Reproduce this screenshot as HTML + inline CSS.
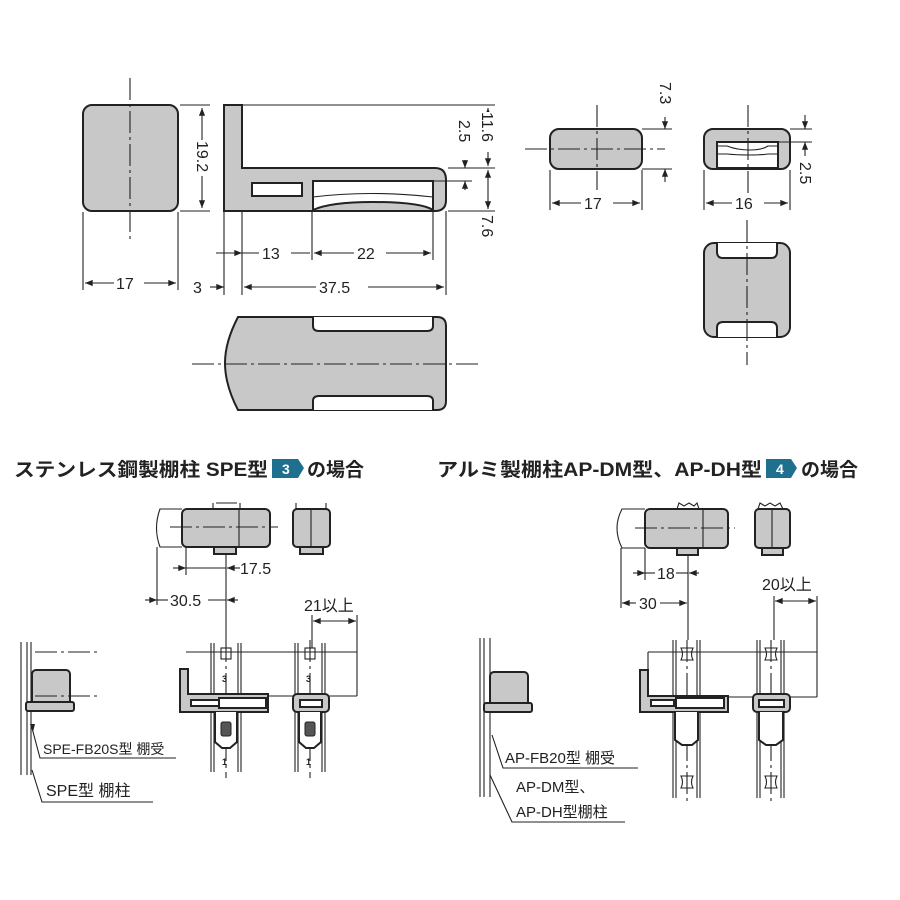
<!DOCTYPE html>
<html><head><meta charset="utf-8"><style>
html,body{margin:0;padding:0;background:#fff}
svg{display:block}
text{font-family:"Liberation Sans","Noto Sans CJK JP",sans-serif;fill:#222}
.o{fill:#c8c8c8;stroke:#222;stroke-width:2}
.w{fill:#fff;stroke:#222;stroke-width:2}
.t{stroke:#222;stroke-width:1.1;fill:none}
.c{stroke:#222;stroke-width:1.1;fill:none;stroke-dasharray:22 4 3 4}
.d{font-size:16px}
.h{font-size:19px;font-weight:bold}
</style></head><body>
<svg width="900" height="900" viewBox="0 0 900 900" xmlns="http://www.w3.org/2000/svg">
<defs>
<marker id="a" viewBox="0 0 10 10" refX="10" refY="5" markerWidth="9" markerHeight="7" orient="auto-start-reverse"><path d="M0,1 L10,5 L0,9z" fill="#222"/></marker>
</defs>

<!-- front square -->
<rect class="o" x="83" y="105" width="95" height="106" rx="9"/>
<line class="c" x1="130" y1="78" x2="130" y2="240"/>
<line class="t" x1="180" y1="105" x2="210" y2="105"/>
<line class="t" x1="180" y1="211" x2="210" y2="211"/>
<line class="t" x1="202" y1="108" x2="202" y2="208" marker-start="url(#a)" marker-end="url(#a)"/>
<rect x="194" y="140" width="16" height="36" fill="#fff"/>
<text class="d" transform="translate(197,141) rotate(90)">19.2</text>
<line class="t" x1="83" y1="212" x2="83" y2="290"/>
<line class="t" x1="178" y1="212" x2="178" y2="290"/>
<line class="t" x1="85" y1="283" x2="176" y2="283" marker-start="url(#a)" marker-end="url(#a)"/>
<rect x="114" y="274" width="30" height="18" fill="#fff"/>
<text class="d" x="116" y="289">17</text>

<!-- L profile -->
<path class="o" d="M224,105 H242 V168 H435 Q446,168 446,180 V200 Q446,211 435,211 H224 Z"/>
<rect class="w" x="252" y="183" width="50" height="13"/>
<path class="w" d="M313,181 H433 V210 Q420,202 373,202 Q330,202 313,210 Z"/>
<path class="t" d="M313,197 Q370,190 433,197"/>
<line class="t" x1="243" y1="105" x2="495" y2="105"/>
<line class="t" x1="448" y1="168" x2="495" y2="168"/>
<line class="t" x1="433" y1="181" x2="472" y2="181"/>
<line class="t" x1="448" y1="211" x2="495" y2="211"/>
<line class="t" x1="465" y1="160" x2="465" y2="168" marker-end="url(#a)"/>
<line class="t" x1="465" y1="190" x2="465" y2="181" marker-end="url(#a)"/>
<text class="d" transform="translate(459,120) rotate(90)">2.5</text>
<line class="t" x1="488" y1="108" x2="488" y2="166" marker-start="url(#a)" marker-end="url(#a)"/>
<line class="t" x1="488" y1="170" x2="488" y2="209" marker-start="url(#a)" marker-end="url(#a)"/>
<rect x="480" y="112" width="16" height="40" fill="#fff"/>
<text class="d" transform="translate(482,112) rotate(90)">11.6</text>
<text class="d" transform="translate(482,215) rotate(90)">7.6</text>
<line class="t" x1="224" y1="211" x2="224" y2="295"/>
<line class="t" x1="242" y1="211" x2="242" y2="295"/>
<line class="t" x1="312" y1="211" x2="312" y2="260"/>
<line class="t" x1="433" y1="211" x2="433" y2="260"/>
<line class="t" x1="446" y1="211" x2="446" y2="295"/>
<line class="t" x1="216" y1="253" x2="242" y2="253" marker-end="url(#a)"/>
<line class="t" x1="242" y1="253" x2="310" y2="253"/>
<line class="t" x1="314" y1="253" x2="431" y2="253" marker-start="url(#a)" marker-end="url(#a)"/>
<rect x="259" y="244" width="32" height="18" fill="#fff"/>
<text class="d" x="262" y="259">13</text>
<rect x="354" y="244" width="32" height="18" fill="#fff"/>
<text class="d" x="357" y="259">22</text>
<line class="t" x1="210" y1="287" x2="224" y2="287" marker-end="url(#a)"/>
<text class="d" x="193" y="293">3</text>
<line class="t" x1="244" y1="287" x2="444" y2="287" marker-start="url(#a)" marker-end="url(#a)"/>
<rect x="316" y="278" width="52" height="18" fill="#fff"/>
<text class="d" x="319" y="293">37.5</text>

<!-- bottom view -->
<path class="o" d="M238,317 H437 Q446,317 446,326 V401 Q446,410 437,410 H238 Q225,385 225,363 Q225,342 238,317 Z"/>
<path class="w" d="M313,317 V326 Q313,331 319,331 H427 Q433,331 433,326 V317"/>
<path class="w" d="M313,410 V401 Q313,396 319,396 H427 Q433,396 433,401 V410"/>
<line class="c" x1="192" y1="364" x2="478" y2="364"/>

<!-- right top -->
<rect class="o" x="550" y="129" width="92" height="40" rx="9"/>
<line class="c" x1="525" y1="149" x2="665" y2="149"/>
<line class="c" x1="597" y1="105" x2="597" y2="190"/>
<line class="t" x1="642" y1="129" x2="672" y2="129"/>
<line class="t" x1="642" y1="169" x2="672" y2="169"/>
<line class="t" x1="665" y1="117" x2="665" y2="129" marker-end="url(#a)"/>
<line class="t" x1="665" y1="182" x2="665" y2="169" marker-end="url(#a)"/>
<text class="d" transform="translate(660,82) rotate(90)">7.3</text>
<line class="t" x1="550" y1="170" x2="550" y2="210"/>
<line class="t" x1="642" y1="170" x2="642" y2="210"/>
<line class="t" x1="552" y1="203" x2="640" y2="203" marker-start="url(#a)" marker-end="url(#a)"/>
<rect x="581" y="194" width="32" height="18" fill="#fff"/>
<text class="d" x="584" y="209">17</text>

<rect class="o" x="704" y="129" width="86" height="40" rx="9"/>
<path class="w" d="M717,142 H778 V168 H717 Z"/>
<path class="t" d="M717,146 H727 Q737,150 750,150 Q762,150 768,146 H778"/>
<path class="t" d="M717,154 H727 Q737,155 750,155 Q762,155 768,154 H778"/>
<line class="c" x1="748" y1="105" x2="748" y2="205"/>
<line class="t" x1="790" y1="129" x2="812" y2="129"/>
<line class="t" x1="778" y1="142" x2="812" y2="142"/>
<line class="t" x1="805" y1="115" x2="805" y2="129" marker-end="url(#a)"/>
<line class="t" x1="805" y1="156" x2="805" y2="142" marker-end="url(#a)"/>
<text class="d" transform="translate(800,162) rotate(90)">2.5</text>
<line class="t" x1="704" y1="170" x2="704" y2="210"/>
<line class="t" x1="790" y1="170" x2="790" y2="210"/>
<line class="t" x1="706" y1="203" x2="788" y2="203" marker-start="url(#a)" marker-end="url(#a)"/>
<rect x="732" y="194" width="32" height="18" fill="#fff"/>
<text class="d" x="735" y="209">16</text>

<rect class="o" x="704" y="243" width="86" height="94" rx="10"/>
<path class="w" d="M717,243 V252 Q717,258 723,258 H771 Q777,258 777,252 V243"/>
<path class="w" d="M717,337 V328 Q717,322 723,322 H771 Q777,322 777,328 V337"/>
<line class="c" x1="747" y1="220" x2="747" y2="365"/>

<!-- lower left title -->
<text class="h" x="14" y="476" textLength="254" lengthAdjust="spacingAndGlyphs">ステンレス鋼製棚柱 SPE型</text>
<path d="M272,459 H298 L304,468 L298,478 H272 Z" fill="#1f6f8f"/>
<text x="282" y="474" font-size="14" style="fill:#fff" font-weight="bold">3</text>
<text class="h" x="307" y="476">の場合</text>

<path class="t" d="M182,509 H160 Q153,528 160,547 H182"/>
<rect class="o" x="182" y="509" width="88" height="38" rx="5"/>
<path d="M213,509 V503 M240,509 V503 M216,503 H237" class="t" stroke-width="2"/>
<rect class="o" x="214" y="547" width="22" height="7"/>
<line class="c" x1="170" y1="527" x2="278" y2="527"/>
<line class="t" x1="239" y1="509" x2="239" y2="547"/>
<rect class="o" x="293" y="509" width="37" height="38" rx="4"/>
<path d="M296,509 V503 M326,509 V503" class="t" stroke-width="2"/>
<line class="t" x1="311" y1="509" x2="311" y2="547"/>
<rect class="o" x="300" y="547" width="23" height="7"/>
<line class="t" x1="226" y1="554" x2="226" y2="640"/>
<line class="t" x1="186" y1="547" x2="186" y2="575"/>
<line class="t" x1="157" y1="547" x2="157" y2="605"/>
<line class="t" x1="173" y1="568" x2="186" y2="568" marker-end="url(#a)"/>
<line class="t" x1="186" y1="568" x2="226" y2="568"/>
<line class="t" x1="240" y1="568" x2="227" y2="568" marker-end="url(#a)"/>
<text class="d" x="240" y="574">17.5</text>
<line class="t" x1="145" y1="600" x2="157" y2="600" marker-end="url(#a)"/>
<line class="t" x1="157" y1="600" x2="168" y2="600"/>
<text class="d" x="170" y="606">30.5</text>
<line class="t" x1="208" y1="600" x2="226" y2="600"/>
<line class="t" x1="238" y1="600" x2="227" y2="600" marker-end="url(#a)"/>
<text class="d" x="304" y="611">21以上</text>
<line class="t" x1="312" y1="615" x2="312" y2="648"/>
<line class="t" x1="357" y1="615" x2="357" y2="696"/>
<line class="t" x1="313" y1="621" x2="356" y2="621" marker-start="url(#a)" marker-end="url(#a)"/>
<line class="t" x1="186" y1="652" x2="357" y2="652"/>
<line class="t" x1="240" y1="696" x2="357" y2="696"/>

<g id="p1">
<line class="t" x1="211" y1="643" x2="211" y2="772"/>
<line class="t" x1="214" y1="643" x2="214" y2="772"/>
<line class="t" x1="238" y1="643" x2="238" y2="772"/>
<line class="t" x1="241" y1="643" x2="241" y2="772"/>
<line class="c" x1="226" y1="640" x2="226" y2="778"/>
<rect class="t" x="221" y="648" width="10" height="11" stroke-width="1.5"/>
<text x="222" y="682" font-size="9" font-weight="bold">3</text>
<text x="222" y="765" font-size="9" font-weight="bold">1</text>
</g>
<use href="#p1" x="84"/>
<path class="o" d="M180,669 H188 V694 H268 V712 H180 Z"/>
<rect class="w" x="191" y="700" width="28" height="6" stroke-width="1.5"/>
<rect class="w" x="219" y="698" width="47" height="10" stroke-width="1.5"/>
<path class="w" d="M215,712 V742 L222,748 H230 L237,742 V712" />
<rect x="221" y="722" width="10" height="14" rx="2" fill="#555" stroke="#222"/>
<rect class="o" x="293" y="694" width="36" height="18" rx="4"/>
<rect class="w" x="300" y="700" width="22" height="7" stroke-width="1.5"/>
<path class="w" d="M299,712 V742 L306,748 H314 L321,742 V712" />
<rect x="305" y="722" width="10" height="14" rx="2" fill="#555" stroke="#222"/>

<!-- left wall SPE -->
<line class="t" x1="21" y1="642" x2="21" y2="775"/>
<line class="t" x1="27" y1="642" x2="27" y2="775"/>
<line class="t" x1="31" y1="642" x2="31" y2="775"/>
<rect class="o" x="32" y="670" width="38" height="36" rx="4"/>
<rect class="o" x="26" y="702" width="48" height="9" rx="2"/>
<line class="c" x1="35" y1="652" x2="100" y2="652"/>
<line class="c" x1="35" y1="696" x2="100" y2="696"/>
<path class="t" d="M32,728 L40,758 H176"/>
<path d="M30,724 l5,0 l-2,8z" fill="#222"/>
<text x="43" y="754" font-size="14">SPE-FB20S型 棚受</text>
<path class="t" d="M32,770 L42,802 H153"/>
<text x="46" y="796" font-size="16">SPE型 棚柱</text>

<!-- lower right title -->
<text class="h" x="437" y="476" textLength="325" lengthAdjust="spacingAndGlyphs">アルミ製棚柱AP-DM型、AP-DH型</text>
<path d="M766,459 H791 L797,468 L791,478 H766 Z" fill="#1f6f8f"/>
<text x="776" y="474" font-size="14" style="fill:#fff" font-weight="bold">4</text>
<text class="h" x="801" y="476">の場合</text>

<path class="t" d="M645,509 H622 Q612,528 622,548 H645"/>
<rect class="o" x="645" y="509" width="83" height="39" rx="5"/>
<path d="M677,509 l2,-6 l5,3 l5,-3 l5,3 l3,-3 l2,6" class="t" stroke-width="2"/>
<rect class="o" x="677" y="548" width="21" height="7"/>
<line class="c" x1="635" y1="528" x2="735" y2="528"/>
<line class="t" x1="703" y1="509" x2="703" y2="548"/>
<rect class="o" x="755" y="509" width="35" height="39" rx="4"/>
<path d="M758,509 l2,-6 l5,3 l5,-3 l5,3 l5,-3 l3,6" class="t" stroke-width="2"/>
<line class="t" x1="772" y1="509" x2="772" y2="548"/>
<rect class="o" x="762" y="548" width="21" height="7"/>
<line class="t" x1="688" y1="555" x2="688" y2="640"/>
<line class="t" x1="645" y1="548" x2="645" y2="580"/>
<line class="t" x1="621" y1="548" x2="621" y2="608"/>
<line class="t" x1="633" y1="573" x2="645" y2="573" marker-end="url(#a)"/>
<line class="t" x1="645" y1="573" x2="655" y2="573"/>
<text class="d" x="657" y="579">18</text>
<line class="t" x1="676" y1="573" x2="688" y2="573"/>
<line class="t" x1="699" y1="573" x2="689" y2="573" marker-end="url(#a)"/>
<line class="t" x1="622" y1="603" x2="636" y2="603" marker-start="url(#a)"/>
<text class="d" x="639" y="609">30</text>
<line class="t" x1="660" y1="603" x2="687" y2="603" marker-end="url(#a)"/>
<text class="d" x="762" y="590">20以上</text>
<line class="t" x1="774" y1="596" x2="774" y2="640"/>
<line class="t" x1="817" y1="596" x2="817" y2="697"/>
<line class="t" x1="775" y1="601" x2="816" y2="601" marker-start="url(#a)" marker-end="url(#a)"/>
<line class="t" x1="648" y1="652" x2="817" y2="652"/>
<line class="t" x1="648" y1="652" x2="648" y2="670"/>
<line class="t" x1="700" y1="697" x2="817" y2="697"/>

<g id="p2">
<line class="t" x1="673" y1="640" x2="673" y2="798"/>
<line class="t" x1="676" y1="640" x2="676" y2="798"/>
<line class="t" x1="697" y1="640" x2="697" y2="798"/>
<line class="t" x1="700" y1="640" x2="700" y2="798"/>
<line class="c" x1="687" y1="640" x2="687" y2="805"/>
<path class="t" stroke-width="2" d="M681,648 h12 q-3,6 0,12 h-12 q3,-6 0,-12z"/>
<path class="t" stroke-width="2" d="M681,776 h12 q-3,6 0,12 h-12 q3,-6 0,-12z"/>
</g>
<use href="#p2" x="84"/>
<path class="o" d="M640,670 H648 V696 H728 V712 H640 Z"/>
<rect class="w" x="651" y="700" width="23" height="6" stroke-width="1.5"/>
<rect class="w" x="676" y="698" width="48" height="10" stroke-width="1.5"/>
<path class="w" d="M675,712 V740 L682,745 H692 L698,740 V712"/>
<rect class="o" x="753" y="694" width="37" height="18" rx="4"/>
<rect class="w" x="759" y="700" width="25" height="7" stroke-width="1.5"/>
<path class="w" d="M759,712 V740 L766,745 H776 L783,740 V712"/>

<!-- left wall AP -->
<line class="t" x1="480" y1="638" x2="480" y2="797"/>
<line class="t" x1="484" y1="638" x2="484" y2="797"/>
<line class="t" x1="490" y1="638" x2="490" y2="797"/>
<rect class="o" x="490" y="672" width="38" height="36" rx="4"/>
<rect class="o" x="484" y="703" width="48" height="9" rx="2"/>
<path class="t" d="M492,735 L503,768 H638"/>
<text x="505" y="763" font-size="15">AP-FB20型 棚受</text>
<path class="t" d="M490,775 L512,822 H625"/>
<text x="516" y="792" font-size="15">AP-DM型、</text>
<text x="516" y="817" font-size="15">AP-DH型棚柱</text>
</svg>
</body></html>
